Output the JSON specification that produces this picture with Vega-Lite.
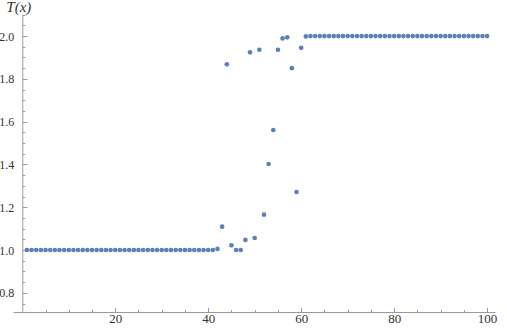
{
  "$schema": "https://vega.github.io/schema/vega-lite/v6.json",
  "width": 482,
  "height": 298,
  "autosize": {"type": "none"},
  "padding": {"left": 13, "top": 14, "right": 12, "bottom": 18},
  "config": {
    "view": {"stroke": null},
    "axis": {
      "domainColor": "#9a9a9a",
      "tickColor": "#9a9a9a",
      "labelColor": "#333333",
      "labelFontSize": 13,
      "labelFont": "Liberation Serif, DejaVu Serif, serif",
      "grid": false,
      "domainWidth": 1,
      "tickWidth": 1
    }
  },
  "data": {
    "values": [
      {"x": 1, "T": 1.0}, {"x": 2, "T": 1.0}, {"x": 3, "T": 1.0}, {"x": 4, "T": 1.0}, {"x": 5, "T": 1.0},
      {"x": 6, "T": 1.0}, {"x": 7, "T": 1.0}, {"x": 8, "T": 1.0}, {"x": 9, "T": 1.0}, {"x": 10, "T": 1.0},
      {"x": 11, "T": 1.0}, {"x": 12, "T": 1.0}, {"x": 13, "T": 1.0}, {"x": 14, "T": 1.0}, {"x": 15, "T": 1.0},
      {"x": 16, "T": 1.0}, {"x": 17, "T": 1.0}, {"x": 18, "T": 1.0}, {"x": 19, "T": 1.0}, {"x": 20, "T": 1.0},
      {"x": 21, "T": 1.0}, {"x": 22, "T": 1.0}, {"x": 23, "T": 1.0}, {"x": 24, "T": 1.0}, {"x": 25, "T": 1.0},
      {"x": 26, "T": 1.0}, {"x": 27, "T": 1.0}, {"x": 28, "T": 1.0}, {"x": 29, "T": 1.0}, {"x": 30, "T": 1.0},
      {"x": 31, "T": 1.0}, {"x": 32, "T": 1.0}, {"x": 33, "T": 1.0}, {"x": 34, "T": 1.0}, {"x": 35, "T": 1.0},
      {"x": 36, "T": 1.0}, {"x": 37, "T": 1.0}, {"x": 38, "T": 1.0}, {"x": 39, "T": 1.0}, {"x": 40, "T": 1.0},
      {"x": 41, "T": 1.0}, {"x": 42, "T": 1.005}, {"x": 43, "T": 1.109}, {"x": 44, "T": 1.868}, {"x": 45, "T": 1.022},
      {"x": 46, "T": 1.0}, {"x": 47, "T": 1.0}, {"x": 48, "T": 1.047}, {"x": 49, "T": 1.924}, {"x": 50, "T": 1.056},
      {"x": 51, "T": 1.936}, {"x": 52, "T": 1.165}, {"x": 53, "T": 1.402}, {"x": 54, "T": 1.561}, {"x": 55, "T": 1.936},
      {"x": 56, "T": 1.989}, {"x": 57, "T": 1.994}, {"x": 58, "T": 1.85}, {"x": 59, "T": 1.271}, {"x": 60, "T": 1.945},
      {"x": 61, "T": 1.998}, {"x": 62, "T": 2.0}, {"x": 63, "T": 2.0}, {"x": 64, "T": 2.0}, {"x": 65, "T": 2.0},
      {"x": 66, "T": 2.0}, {"x": 67, "T": 2.0}, {"x": 68, "T": 2.0}, {"x": 69, "T": 2.0}, {"x": 70, "T": 2.0},
      {"x": 71, "T": 2.0}, {"x": 72, "T": 2.0}, {"x": 73, "T": 2.0}, {"x": 74, "T": 2.0}, {"x": 75, "T": 2.0},
      {"x": 76, "T": 2.0}, {"x": 77, "T": 2.0}, {"x": 78, "T": 2.0}, {"x": 79, "T": 2.0}, {"x": 80, "T": 2.0},
      {"x": 81, "T": 2.0}, {"x": 82, "T": 2.0}, {"x": 83, "T": 2.0}, {"x": 84, "T": 2.0}, {"x": 85, "T": 2.0},
      {"x": 86, "T": 2.0}, {"x": 87, "T": 2.0}, {"x": 88, "T": 2.0}, {"x": 89, "T": 2.0}, {"x": 90, "T": 2.0},
      {"x": 91, "T": 2.0}, {"x": 92, "T": 2.0}, {"x": 93, "T": 2.0}, {"x": 94, "T": 2.0}, {"x": 95, "T": 2.0},
      {"x": 96, "T": 2.0}, {"x": 97, "T": 2.0}, {"x": 98, "T": 2.0}, {"x": 99, "T": 2.0}, {"x": 100, "T": 2.0}
    ]
  },
  "layer": [
    {
      "mark": {"type": "point", "filled": true, "size": 22, "color": "#5E81B5", "opacity": 1},
      "encoding": {
        "x": {"field": "x", "type": "quantitative", "scale": {"domain": [-2, 101.7], "nice": false, "zero": false},
          "axis": {"orient": "bottom", "values": [20, 40, 60, 80, 100], "tickSize": -4.5, "labelPadding": 5, "title": null}},
        "y": {"field": "T", "type": "quantitative", "scale": {"domain": [0.7103, 2.103], "nice": false, "zero": false},
          "axis": {"orient": "left", "offset": -9.3, "values": [0.8, 1.0, 1.2, 1.4, 1.6, 1.8, 2.0], "format": ".1f", "tickSize": -4.5, "labelPadding": 13, "labelFontSize": 12,
            "title": "T(x)", "titleAngle": 0, "titleFont": "Liberation Serif, DejaVu Serif, serif", "titleFontStyle": "italic", "titleFontWeight": "normal", "titleFontSize": 15, "titleColor": "#333333", "titleX": -4, "titleY": -3, "titleAlign": "center", "titleBaseline": "alphabetic"}}
      }
    },
    {
      "mark": {"type": "point", "filled": true, "opacity": 0},
      "encoding": {
        "x": {"field": "x", "type": "quantitative", "scale": {"domain": [-2, 101.7], "nice": false, "zero": false},
          "axis": {"orient": "bottom", "values": [5, 10, 15, 25, 30, 35, 45, 50, 55, 65, 70, 75, 85, 90, 95], "labels": false, "domain": false, "tickSize": -2.5, "title": null}},
        "y": {"field": "T", "type": "quantitative", "scale": {"domain": [0.7103, 2.103], "nice": false, "zero": false},
          "axis": {"orient": "left", "offset": -9.3, "values": [0.75, 0.85, 0.9, 0.95, 1.05, 1.1, 1.15, 1.25, 1.3, 1.35, 1.45, 1.5, 1.55, 1.65, 1.7, 1.75, 1.85, 1.9, 1.95, 2.05, 2.1], "labels": false, "domain": false, "tickSize": -2.5, "title": null}}
      }
    }
  ],
  "resolve": {"axis": {"x": "independent", "y": "independent"}}
}
